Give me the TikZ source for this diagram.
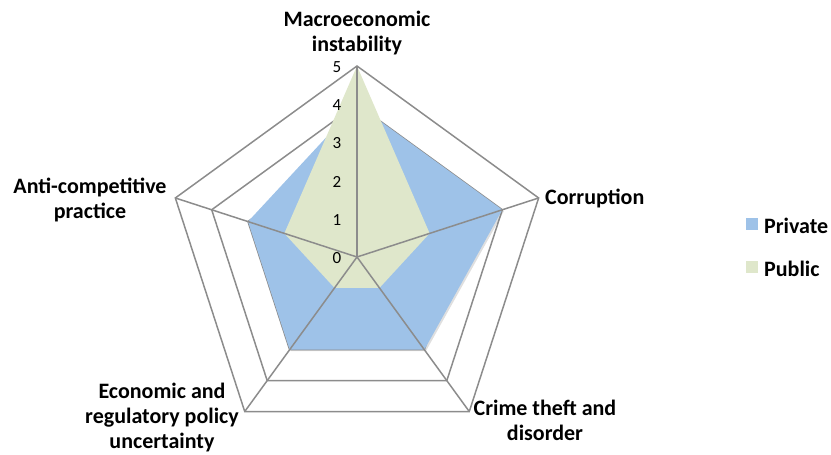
\documentclass[tikz,border=0pt]{standalone}
\usepackage{fontspec}
\setmainfont{Carlito}
\usetikzlibrary{calc,shadows}
\definecolor{gridgray}{RGB}{140,140,140}
\definecolor{privblue}{RGB}{158,194,232}
\definecolor{pubgreen}{RGB}{223,231,203}
\begin{document}
\begin{tikzpicture}[x=1pt,y=1pt,
  lab/.style={font=\bfseries\fontsize{22}{25}\selectfont, align=center, text=black, inner sep=0pt},
  tick/.style={font=\fontsize{17}{19}\selectfont, inner sep=0pt},
  gridline/.style={draw=gridgray, line width=1.5pt, line join=miter},
  legbox/.style={minimum size=12pt, inner sep=0pt}]
\useasboundingbox (0,0) rectangle (831,-455);
\def\u{38.2}
\coordinate (O) at (357,-257);
% rings
\foreach \r in {1,...,5}
  \draw[gridline] ($(O)+(90:{\r*\u})$) -- ($(O)+(18:{\r*\u})$) -- ($(O)+(-54:{\r*\u})$) -- ($(O)+(-126:{\r*\u})$) -- ($(O)+(162:{\r*\u})$) -- cycle;
% private
\fill[privblue, drop shadow={shadow xshift=1.5pt, shadow yshift=-1.5pt, opacity=0.25}]
  ($(O)+(90:{4*\u})$) -- ($(O)+(18:{4*\u})$) -- ($(O)+(-54:{3*\u})$) -- ($(O)+(-126:{3*\u})$) -- ($(O)+(162:{3*\u})$) -- cycle;
% public
\fill[pubgreen]
  ($(O)+(90:{5*\u})$) -- ($(O)+(18:{2*\u})$) -- ($(O)+(-54:{1*\u})$) -- ($(O)+(-126:{1*\u})$) -- ($(O)+(162:{2*\u})$) -- cycle;
% spokes
\foreach \a in {90,18,-54,-126,162}
  \draw[gridline] (O) -- ($(O)+(\a:{5*\u})$);
% ticks
\foreach \i in {0,...,5}
  \node[tick] (t\i) at ($(O)+(-20,{\i*\u-1})$) {\i};
% labels
\node[lab] (macro) at (357,-33) {Macroeconomic\\instability};
\node[lab, anchor=west] (corr) at (545,-198) {Corruption};
\node[lab] (crime) at (545,-420) {Crime theft and\\disorder};
\node[lab] (econ) at (162,-418) {Economic and\\regulatory policy\\uncertainty};
\node[lab] (anti) at (90,-200) {Anti-competitive\\practice};
% legend
\node[legbox, fill=privblue] (kpriv) at (752,-224) {};
\node[lab, anchor=west] (lpriv) at (764,-226) {Private};
\node[legbox, fill=pubgreen] (kpub) at (752,-267) {};
\node[lab, anchor=west] (lpub) at (764,-269) {Public};
\end{tikzpicture}
\end{document}
